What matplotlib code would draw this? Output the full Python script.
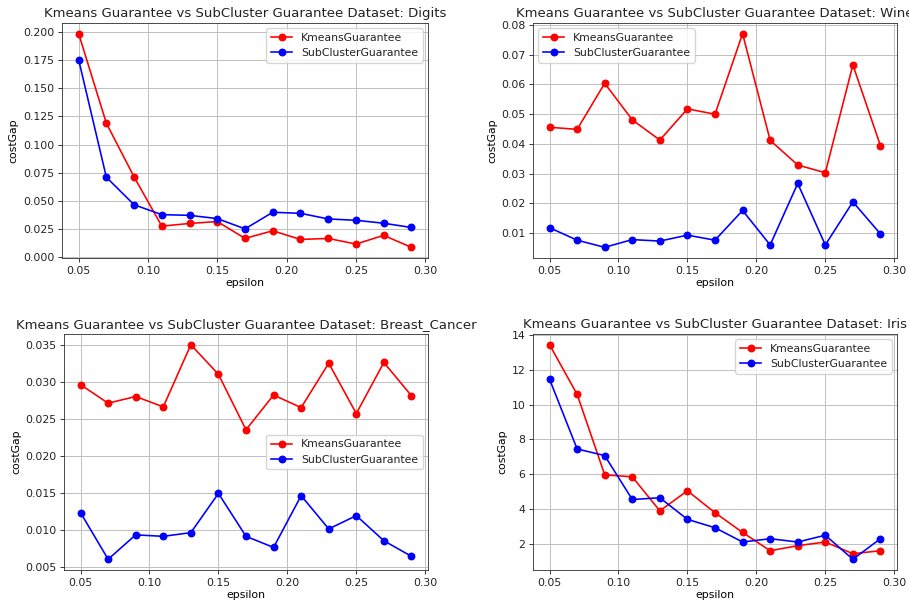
import numpy as np
import matplotlib
matplotlib.use('Agg')
import matplotlib.pyplot as plt

# epsilon values shared by all four runs
epsilon = [0.05, 0.07, 0.09, 0.11, 0.13, 0.15, 0.17, 0.19, 0.21, 0.23, 0.25, 0.27, 0.29]

digits_kmeans = [0.1985, 0.119, 0.0713, 0.0276, 0.0300, 0.0317, 0.0167, 0.0235, 0.0158, 0.0167, 0.0117, 0.0194, 0.0088]
digits_sub = [0.1754, 0.0710, 0.0466, 0.0378, 0.0372, 0.0343, 0.0252, 0.0399, 0.0390, 0.0340, 0.0328, 0.0302, 0.0264]

wine_kmeans = [0.0456, 0.0449, 0.0604, 0.0481, 0.0413, 0.0518, 0.0500, 0.0771, 0.0412, 0.0329, 0.0303, 0.0666, 0.0394]
wine_sub = [0.0118, 0.0076, 0.0052, 0.0078, 0.0073, 0.0093, 0.0076, 0.0176, 0.0060, 0.0267, 0.0060, 0.0205, 0.0097]

bc_kmeans = [0.0296, 0.0271, 0.0280, 0.0266, 0.0350, 0.0310, 0.0235, 0.0282, 0.0265, 0.0325, 0.0257, 0.0326, 0.0281]
bc_sub = [0.0123, 0.0060, 0.0093, 0.0091, 0.0096, 0.0149, 0.0091, 0.0076, 0.0146, 0.0101, 0.0119, 0.0085, 0.0064]

iris_kmeans = [13.43, 10.58, 5.97, 5.85, 3.90, 5.05, 3.79, 2.66, 1.61, 1.90, 2.11, 1.44, 1.61]
iris_sub = [11.45, 7.45, 7.07, 4.55, 4.65, 3.41, 2.93, 2.11, 2.30, 2.11, 2.50, 1.12, 2.30]

datasets = ['Digits', 'Wine', 'Breast_Cancer', 'Iris']
kmeans_all = [digits_kmeans, wine_kmeans, bc_kmeans, iris_kmeans]
sub_all = [digits_sub, wine_sub, bc_sub, iris_sub]
legend_locs = ['upper right', 'upper left', 'center right', 'upper right']

W, H = 909, 610
# axes boxes in pixels: left, top, right, bottom
boxes = [(62, 23, 428, 258), (533, 23, 897, 258),
         (64, 334, 428, 570), (533, 334, 897, 570)]

s = 0.78
plt.rcParams.update({
    'font.size': 10 * s,
    'axes.linewidth': 0.8 * s,
    'axes.edgecolor': '#333333',
    'xtick.major.size': 3.5 * s,
    'ytick.major.size': 3.5 * s,
    'xtick.major.width': 0.8 * s,
    'ytick.major.width': 0.8 * s,
    'xtick.major.pad': 3.5 * s,
    'ytick.major.pad': 3.5 * s,
    'text.color': '#222222',
    'xtick.color': '#222222',
    'ytick.color': '#222222',
})

fig = plt.figure(figsize=(W / 100, H / 100), dpi=100)

for i in range(4):
    l, t, r, b = boxes[i]
    ax = fig.add_axes([l / W, 1 - b / H, (r - l) / W, (b - t) / H])
    ax.plot(epsilon, kmeans_all[i], 'ro-', label='KmeansGuarantee',
            linewidth=1.5 * s, markersize=6 * s)
    ax.plot(epsilon, sub_all[i], 'bo-', label='SubClusterGuarantee',
            linewidth=1.5 * s, markersize=6 * s)
    ax.grid(True, color='#c0c0c0', linewidth=0.9 * s)
    ax.set_xticks([0.05, 0.10, 0.15, 0.20, 0.25, 0.30])
    ax.set_xlabel('epsilon', labelpad=2)
    ax.set_ylabel('costGap', labelpad=3)
    ax.set_title('Kmeans Guarantee vs SubCluster Guarantee Dataset: ' + datasets[i],
                 fontsize=9.5, pad=4)
    ax.legend(loc=legend_locs[i])

plt.savefig('out.png', dpi=100)
